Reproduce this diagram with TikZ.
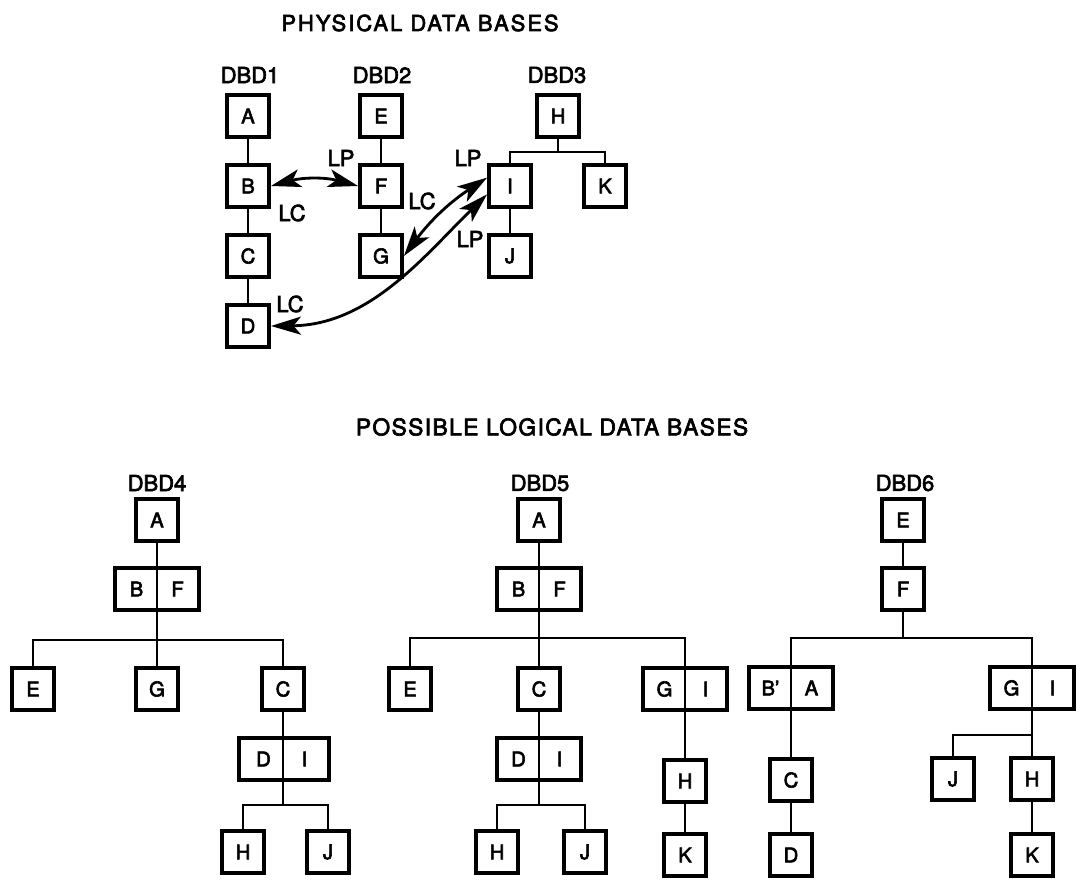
\documentclass[tikz,border=0pt]{standalone}
\usepackage{fontspec}
\setmainfont{TeX Gyre Heros}
\newfontfamily\hv{TeX Gyre Heros}[FakeBold=3]
\usetikzlibrary{arrows.meta}
\newcommand\dtext[2]{\makebox[0.82cm]{#1}\makebox[0.82cm]{#2}}
\begin{document}
\begin{tikzpicture}[x=0.02cm,y=-0.02cm,
 box/.style={draw,line width=2.2pt,minimum width=0.84cm,minimum height=0.84cm,inner sep=0pt,font={\hv\fontsize{11.5}{13}\selectfont}},
 dbox/.style={box,minimum width=1.68cm},
 conn/.style={line width=1.4pt},
 lbl/.style={inner sep=0pt,font={\hv\fontsize{12.5}{14}\selectfont}},
 ttl/.style={inner sep=0pt,font={\hv\fontsize{12.5}{14}\selectfont\addfontfeature{LetterSpace=9}}},
 ttlb/.style={inner sep=0pt,font={\hv\fontsize{13}{15}\selectfont\addfontfeature{LetterSpace=6}}},
 dbl/.style={conn,line width=1.6pt,{Stealth[length=0.6cm,width=0.36cm,inset=0.15cm]}-{Stealth[length=0.6cm,width=0.36cm,inset=0.15cm]}}]
\path[use as bounding box] (0,0) rectangle (1078,888);

% ---------- titles
\node[ttl] (t1) at (420,23) {PHYSICAL DATA BASES};
\node[ttlb] (t2) at (552,427) {POSSIBLE LOGICAL DATA BASES};

% ---------- physical data bases
\node[lbl] (dbd1) at (250,75) {DBD1};
\node[box] (A1) at (248,116) {A};
\node[box] (B1) at (248,186) {B};
\node[box] (C1) at (248,256) {C};
\node[box] (D1) at (248,326) {D};
\draw[conn] (A1) -- (B1) (B1) -- (C1) (C1) -- (D1);

\node[lbl] (dbd2) at (382,75) {DBD2};
\node[box] (E2) at (381,116) {E};
\node[box] (F2) at (381,186) {F};
\node[box] (G2) at (381,256) {G};
\draw[conn] (E2) -- (F2) (F2) -- (G2);

\node[lbl] (dbd3) at (557,75) {DBD3};
\node[box] (H3) at (558,116) {H};
\node[box] (I3) at (510,186) {I};
\node[box] (K3) at (605,186) {K};
\node[box] (J3) at (510,256) {J};
\coordinate (h3b) at (558,152);
\draw[conn] (H3.south) -- (h3b);
\draw[conn] (I3.north) |- (h3b) -| (K3.north);
\draw[conn] (I3) -- (J3);

\node[lbl] (lp1) at (341,158) {LP};
\node[lbl] (lc1) at (292,213) {LC};
\node[lbl] (lc2) at (422,201) {LC};
\node[lbl] (lp2) at (468,158) {LP};
\node[lbl] (lp3) at (470,239) {LP};
\node[lbl] (lc3) at (290,304) {LC};

\draw[dbl] (B1.east) to[bend left=15] (F2.west);
\draw[dbl] (G2.east) to[bend left=10] (I3.160);
\draw[dbl] (D1.east) .. controls (370,325) and (425,255) .. (I3.200);

% ---------- DBD4
\node[lbl] (dbd4) at (157,483) {DBD4};
\node[box] (A4) at (157,520) {A};
\node[dbox] (BF4) at (157,589) {\dtext{B}{F}};
\node[box] (E4) at (33,689) {E};
\node[box] (G4) at (157,689) {G};
\node[box] (C4) at (283,689) {C};
\node[dbox,minimum width=1.8cm] (DI4) at (284,759) {\dtext{D}{I}};
\node[box] (H4) at (243,852) {H};
\node[box] (J4) at (328,852) {J};
\coordinate (j4) at (157,640);
\coordinate (k4) at (283,805);
\draw[conn] (A4.south) -- (j4);
\draw[conn] (E4.north) |- (j4) -| (C4.north);
\draw[conn] (j4) -- (G4.north);
\draw[conn] (C4.south) -- (k4);
\draw[conn] (H4.north) |- (k4) -| (J4.north);

% ---------- DBD5
\node[lbl] (dbd5) at (540,483) {DBD5};
\node[box] (A5) at (539,520) {A};
\node[dbox] (BF5) at (539,589) {\dtext{B}{F}};
\node[box] (E5) at (410,689) {E};
\node[box] (C5) at (539,689) {C};
\node[dbox] (GI5) at (685,689) {\dtext{G}{I}};
\node[dbox] (DI5) at (539,759) {\dtext{D}{I}};
\node[box] (H5) at (497,852) {H};
\node[box] (J5) at (585,852) {J};
\node[box] (Hb5) at (685,781) {H};
\node[box] (K5) at (685,855) {K};
\coordinate (j5) at (539,638);
\coordinate (g5) at (685,638);
\coordinate (k5) at (539,805);
\draw[conn] (A5.south) -- (j5);
\draw[conn] (E5.north) |- (j5) -- (g5) -- (Hb5.north);
\draw[conn] (j5) -- (C5.north);
\draw[conn] (C5.south) -- (k5);
\draw[conn] (H5.north) |- (k5) -| (J5.north);
\draw[conn] (Hb5) -- (K5);

% ---------- DBD6
\node[lbl] (dbd6) at (905,483) {DBD6};
\node[box] (E6) at (903,520) {E};
\node[box] (F6) at (903,589) {F};
\node[dbox] (BA6) at (791,688) {\dtext{B’}{A}};
\node[dbox] (GI6) at (1032,688) {\dtext{G}{I}};
\node[box] (C6) at (791,780) {C};
\node[box] (D6) at (791,855) {D};
\node[box] (J6) at (953,779) {J};
\node[box] (H6) at (1032,779) {H};
\node[box] (K6) at (1032,855) {K};
\coordinate (j6) at (903,638);
\coordinate (a6) at (791,638);
\coordinate (g6) at (1032,638);
\coordinate (k6) at (1032,735);
\draw[conn] (E6) -- (F6);
\draw[conn] (F6.south) -- (j6);
\draw[conn] (C6.north) -- (a6) -- (g6) -- (H6.north);
\draw[conn] (J6.north) |- (k6);
\draw[conn] (C6) -- (D6);
\draw[conn] (H6) -- (K6);
\end{tikzpicture}
\end{document}
